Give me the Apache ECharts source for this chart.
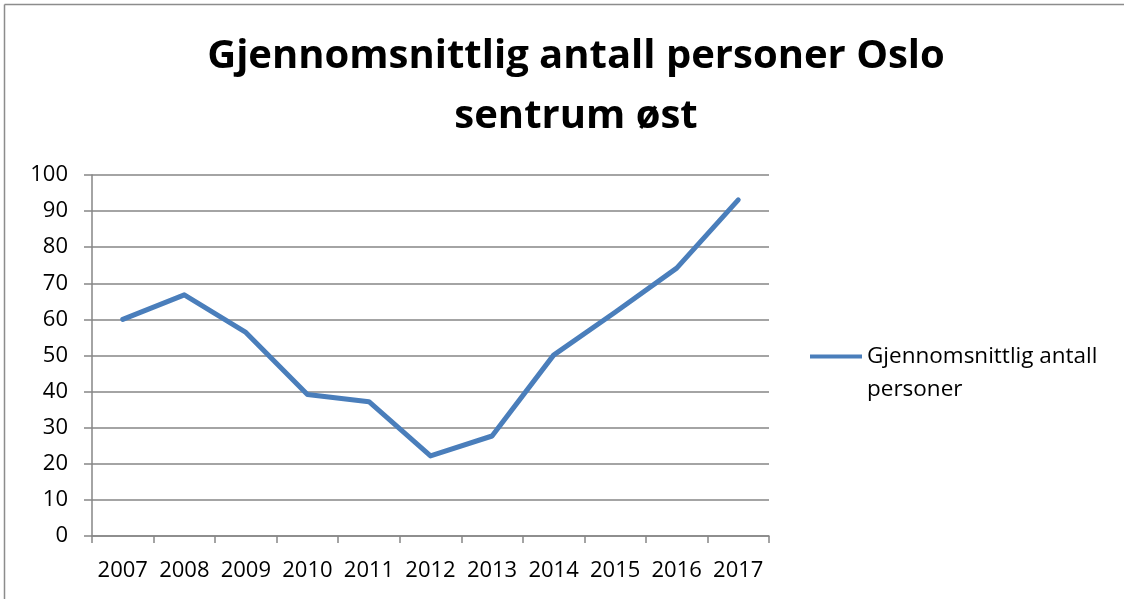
<!DOCTYPE html>
<html>
<head>
<meta charset="utf-8">
<script src="https://cdn.jsdelivr.net/npm/echarts@6/dist/echarts.min.js"></script>
<style>
  html, body { margin: 0; padding: 0; background: #fff; }
  #chart { width: 1124px; height: 599px; }
</style>
</head>
<body>
<div id="chart"></div>
<script>
  // Data
  const years = ['2007', '2008', '2009', '2010', '2011', '2012', '2013', '2014', '2015', '2016', '2017']
  const persons = [60, 66.8, 56.4, 39.2, 37.2, 22.2, 27.7, 50.1, 62, 74.2, 93.1]
  const seriesName = 'Gjennomsnittlig antall personer'

  const chart = echarts.init(document.getElementById('chart'))
  const font = '"Open Sans", "DejaVu Sans", sans-serif'

  chart.setOption({
    backgroundColor: '#fff',
    animation: false,
    title: {
      text: 'Gjennomsnittlig antall personer Oslo\nsentrum øst',
      left: 571,
      top: 22,
      textAlign: 'center',
      textStyle: { fontFamily: font, fontSize: 40, fontWeight: 'bold', color: '#000', lineHeight: 60 }
    },
    graphic: [
      { type: 'line', shape: { x1: 4.5, y1: 4.5, x2: 1124, y2: 4.5 }, style: { stroke: '#8c8c8c', lineWidth: 1.5 } },
      { type: 'line', shape: { x1: 4.5, y1: 4.5, x2: 4.5, y2: 599 }, style: { stroke: '#8c8c8c', lineWidth: 1.5 } }
    ],
    legend: {
      left: 805,
      top: 335,
      // bar at the first text line, invisible end points keep the box 66 tall
      icon: 'path://M0,0 L0,0 M0,14.5 L52,14.5 L52,18.5 L0,18.5 Z M0,66 L0,66',
      itemWidth: 52,
      itemHeight: 66,
      formatter: () => 'Gjennomsnittlig antall\npersoner',
      textStyle: { fontFamily: font, fontSize: 22.5, color: '#000', lineHeight: 33 }
    },
    grid: { left: 92, right: 355, top: 175, bottom: 63 },
    xAxis: {
      type: 'category',
      data: years,
      boundaryGap: true,
      axisLine: { lineStyle: { color: '#868686', width: 1.5 } },
      axisTick: { show: true, interval: 0, length: 7, lineStyle: { color: '#868686', width: 1.5 } },
      axisLabel: { interval: 0, fontFamily: font, fontSize: 22, color: '#000', margin: 24 }
    },
    yAxis: {
      type: 'value',
      min: 0,
      max: 100,
      interval: 10,
      axisLine: { show: true, lineStyle: { color: '#868686', width: 1.5 } },
      axisTick: { show: true, length: 8, lineStyle: { color: '#868686', width: 1.5 } },
      splitLine: { lineStyle: { color: '#868686', width: 1.5 } },
      axisLabel: { fontFamily: font, fontSize: 22, color: '#000', margin: 24 }
    },
    series: [
      {
        name: seriesName,
        type: 'line',
        data: persons,
        symbol: 'none',
        lineStyle: { color: '#4a7ebb', width: 5, cap: 'round', join: 'round' },
        itemStyle: { color: '#4a7ebb' }
      }
    ]
  })
</script>
</body>
</html>
